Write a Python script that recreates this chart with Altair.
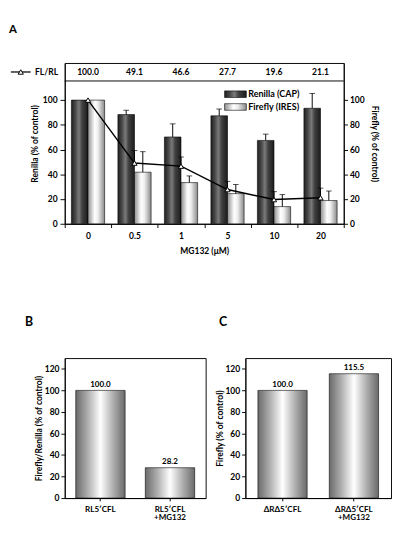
import altair as alt
import pandas as pd

FONT = "Lato"

# ---------------- data ----------------
doses = ["0", "0.5", "1", "5", "10", "20"]
series = ["Renilla (CAP)", "Firefly (IRES)"]
renilla = [100.0, 88.3, 70.2, 87.3, 67.4, 93.4]
renilla_err = [None, 91.8, 80.8, 92.8, 72.5, 105.4]
firefly = [100.0, 41.7, 33.3, 24.4, 13.9, 18.8]
firefly_err = [None, 58.3, 38.7, 31.8, 23.6, 26.5]
fl_rl = [100.0, 49.1, 46.6, 27.7, 19.6, 21.1]
fl_rl_err = [None, 59.2, 54.0, 34.3, 26.0, 28.8]

b_cats = ["RL5′CFL", "RL5′CFL\n+MG132"]
b_vals = [100.0, 28.2]
c_cats = ["ΔRΔ5′CFL", "ΔRΔ5′CFL\n+MG132"]
c_vals = [100.0, 115.5]

left_ticks = [0, 20, 40, 60, 80, 100]
bc_ticks = [0, 20, 40, 60, 80, 100, 120]


def grad(stops):
    return alt.Gradient(
        gradient="linear", x1=0, x2=1, y1=0, y2=0,
        stops=[alt.GradientStop(color=c, offset=o) for o, c in stops],
    )


DARK = grad([(0, "#202020"), (0.25, "#4a4a4a"), (0.45, "#7a7a7a"), (0.65, "#404040"), (1, "#1c1c1c")])
LIGHT = grad([(0, "#8f8f8f"), (0.4, "#ffffff"), (0.6, "#eeeeee"), (1, "#8a8a8a")])
SILVER = grad([(0, "#6a6a6a"), (0.25, "#b0b0b0"), (0.5, "#ffffff"), (0.75, "#b0b0b0"), (1, "#6a6a6a")])

TXT = dict(font=FONT, fontWeight="bold", color="black")


def letter(ch, dx, dy, size):
    return alt.Chart(pd.DataFrame({"t": [ch]})).mark_text(
        align="left", baseline="top", fontSize=size, **TXT).encode(
        x=alt.value(dx), y=alt.value(dy), text="t:N")


# ---------------- panel A ----------------
dfR = pd.DataFrame({"dose": doses, "value": renilla, "err": renilla_err, "series": series[0]})
dfF = pd.DataFrame({"dose": doses, "value": firefly, "err": firefly_err, "series": series[1]})
dfL = pd.DataFrame({"dose": doses, "value": fl_rl, "err": fl_rl_err})

W_A, H_A = 295, 170
ydom = alt.Scale(domain=[0, 130], nice=False, zero=True)

x_a = alt.X("dose:N", sort=doses, scale=alt.Scale(paddingInner=0, paddingOuter=0),
            axis=alt.Axis(title="MG132 (μM)", labelAngle=0, tickBand="extent", tickSize=4,
                          labelPadding=5, titlePadding=6))
xo = alt.XOffset("series:N", sort=series,
                 scale=alt.Scale(domain=series, paddingInner=0, paddingOuter=0.4))


def yl(field):
    return alt.Y(field, scale=ydom,
                 axis=alt.Axis(values=left_ticks, title="Renilla (% of control)", tickSize=5,
                               labelPadding=3, titlePadding=3))


def yr(field):
    return alt.Y(field, scale=ydom,
                 axis=alt.Axis(values=left_ticks, title="Firefly (% of control)", orient="right",
                               tickSize=4, labelPadding=2, titlePadding=6))


def bar_layers(df, fill):
    bars = alt.Chart(df).mark_bar(fill=fill, stroke="black", strokeWidth=0.6).encode(
        x=x_a, xOffset=xo, y=yl("value:Q"))
    err = alt.Chart(df).transform_filter("isValid(datum.err)")
    rule = err.mark_rule(color="black", strokeWidth=1).encode(
        x=x_a, xOffset=xo, y=yl("value:Q"), y2="err:Q")
    cap = err.mark_tick(color="black", thickness=1, size=6).encode(
        x=x_a, xOffset=xo, y=yl("err:Q"))
    return [bars, rule, cap]


table_txt = alt.Chart(dfL).mark_text(baseline="middle", fontSize=9, **TXT).encode(
    x=x_a, y=alt.value(9.5), text=alt.Text("value:Q", format=".1f"))
divider = alt.Chart(dfL.head(1)).mark_rule(color="black", strokeWidth=1).encode(
    x=alt.value(0), x2=alt.value(W_A), y=alt.value(19))

legR = pd.DataFrame({"series": [series[0]]})
legF = pd.DataFrame({"series": [series[1]]})
leg_layers = []
for d, fill, y0 in [(legR, DARK, 29.5), (legF, LIGHT, 43)]:
    leg_layers.append(alt.Chart(d).mark_rect(fill=fill, stroke="black", strokeWidth=0.6).encode(
        x=alt.value(169), x2=alt.value(192), y=alt.value(y0), y2=alt.value(y0 + 7)))
    leg_layers.append(alt.Chart(d).mark_text(align="left", baseline="middle", fontSize=9.5, **TXT).encode(
        x=alt.value(194), y=alt.value(y0 + 3.5), text="series:N"))

fl_key = pd.DataFrame({"k": ["FL/RL"]})
fl_line = alt.Chart(fl_key).mark_rule(color="black", strokeWidth=1.3).encode(
    x=alt.value(-57), x2=alt.value(-36), y=alt.value(9.5))
fl_pt = alt.Chart(fl_key).mark_point(shape="triangle-up", filled=True, fill="white", stroke="black",
                                     strokeWidth=1, size=30, opacity=1).encode(
    x=alt.value(-46.5), y=alt.value(9.5))
fl_txt = alt.Chart(fl_key).mark_text(align="right", baseline="middle", fontSize=9, **TXT).encode(
    x=alt.value(-7), y=alt.value(9.5), text="k:N")

left_group = alt.layer(*bar_layers(dfR, DARK), *bar_layers(dfF, LIGHT), table_txt, divider,
                       *leg_layers, fl_line, fl_pt, fl_txt, letter("A", -59, -41, 12))

line = alt.Chart(dfL).mark_line(color="black", strokeWidth=1.5).encode(x=x_a, y=yr("value:Q"))
lerr = alt.Chart(dfL).transform_filter("isValid(datum.err)")
l_rule = lerr.mark_rule(color="black", strokeWidth=1).encode(x=x_a, y=yr("value:Q"), y2="err:Q")
l_cap = lerr.mark_tick(color="black", thickness=1, size=6).encode(x=x_a, y=yr("err:Q"))
l_pts = alt.Chart(dfL).mark_point(shape="triangle-up", filled=True, fill="white", stroke="black",
                                  strokeWidth=1, size=30, opacity=1).encode(x=x_a, y=yr("value:Q"))
right_group = alt.layer(line, l_rule, l_cap, l_pts)

panelA = alt.layer(left_group, right_group).resolve_scale(y="independent").properties(
    width=W_A, height=H_A)


# ---------------- panels B and C ----------------
H_BC = 148


def small_panel(cats, vals, ytitle, width, ch, dx, dy, p_in, p_out):
    df = pd.DataFrame({"cat": cats, "value": vals,
                       "line2": [c.split("\n")[1] if "\n" in c else "" for c in cats]})
    x = alt.X("cat:N", sort=cats, scale=alt.Scale(paddingInner=p_in, paddingOuter=p_out),
              axis=alt.Axis(title=None, labelAngle=0, labelExpr="split(datum.label, '\\n')[0]",
                            tickSize=3, labelPadding=4, labelFontSize=8.5))
    y = alt.Y("value:Q", scale=ydom,
              axis=alt.Axis(values=bc_ticks, title=ytitle, tickSize=4, labelPadding=2, titlePadding=1))
    bars = alt.Chart(df).mark_bar(fill=SILVER, stroke="black", strokeWidth=0.6).encode(x=x, y=y)
    lab = alt.Chart(df).mark_text(baseline="bottom", dy=-2, fontSize=8.5, **TXT).encode(
        x=x, y=y, text=alt.Text("value:Q", format=".1f"))
    sub = alt.Chart(df).transform_filter("datum.line2 != ''").mark_text(
        baseline="middle", fontSize=8.5, **TXT).encode(
        x=x, y=alt.value(H_BC + 20.5), text="line2:N")
    return alt.layer(bars, lab, sub, letter(ch, dx, dy, 13)).properties(width=width, height=H_BC)


panelB = small_panel(b_cats, b_vals, "Firefly/Renilla (% of control)", 149, "B", -42, -44, 0.29, 0.158)
panelC = small_panel(c_cats, c_vals, "Firefly (% of control)", 154, "C", -28, -44, 0.31, 0.175)

chart = alt.vconcat(panelA, alt.hconcat(panelB, panelC, spacing=8), spacing=63).properties(
    padding=0
).configure_view(stroke="black", strokeWidth=1).configure_axis(
    grid=False, domainColor="black", domainWidth=1, tickColor="black", tickWidth=1,
    labelColor="black", titleColor="black", labelFont=FONT, titleFont=FONT,
    labelFontWeight="bold", titleFontWeight="bold", labelFontSize=9, titleFontSize=9,
)

chart.save("out.html", embed_options={"renderer": "svg", "actions": False})
